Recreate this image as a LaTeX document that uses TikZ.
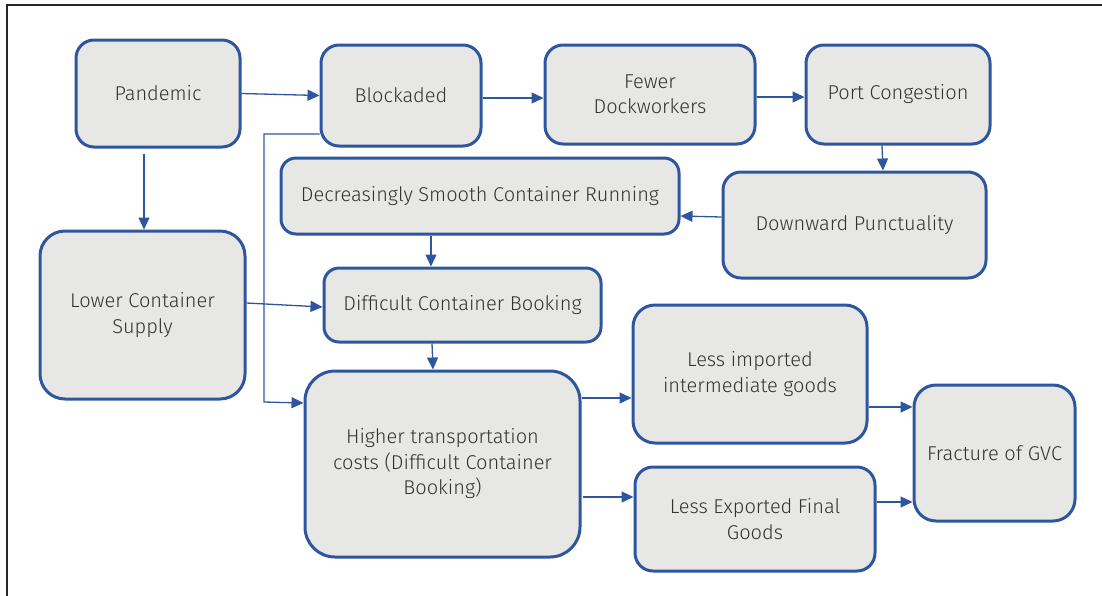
\documentclass[tikz,border=0pt]{standalone}
\usepackage{fontspec}
\setmainfont{Fira Sans}[UprightFont=* Light]
\usetikzlibrary{arrows.meta}
\definecolor{bord}{HTML}{2E569E}
\definecolor{boxfill}{HTML}{E7E7E6}
\definecolor{txt}{HTML}{333333}
\tikzset{
  box/.style={draw=bord, line width=3pt, fill=boxfill, rounded corners=18pt,
    align=center, text=txt, font=\fontsize{20}{25.5}\selectfont, inner sep=0pt},
  link/.style={draw=bord, line width=1.3pt, -{Triangle[length=12pt,width=11pt]}}
}
\begin{document}
\begin{tikzpicture}[x=1pt,y=-1pt]
\useasboundingbox (0,0) rectangle (1102,595);
\draw[line width=1.5pt, color=black!85] (7,600) -- (7,5) -- (1110,5);
\node[box, minimum width=164pt, minimum height=107pt] (pan) at (158,93.5) {Pandemic};
\node[box, minimum width=160pt, minimum height=101pt] (blk) at (401,95.5) {Blockaded};
\node[box, minimum width=210pt, minimum height=99pt] (few) at (650,94.5) {Fewer\\Dockworkers};
\node[box, minimum width=184pt, minimum height=99pt] (port) at (898,94.5) {Port Congestion};
\node[box, rounded corners=15pt, minimum width=398pt, minimum height=76pt] (dsc) at (480,196) {Decreasingly Smooth Container Running};
\node[box, minimum width=263pt, minimum height=106pt] (dp) at (854.5,225) {Downward Punctuality};
\node[box, rounded corners=25pt, minimum width=205pt, minimum height=168pt] (lcs) at (142.5,315) {Lower Container\\Supply};
\node[box, rounded corners=15pt, minimum width=277pt, minimum height=74pt] (dcb) at (462.5,305) {Difficult Container Booking};
\node[box, rounded corners=30pt, minimum width=275pt, minimum height=186pt] (htc) at (442.5,464) {Higher transportation\\costs (Difficult Container\\Booking)};
\node[box, rounded corners=22pt, minimum width=234pt, minimum height=138pt] (lii) at (750,374) {Less imported\\intermediate goods};
\node[box, minimum width=240pt, minimum height=104pt] (lef) at (755,519) {Less Exported Final\\Goods};
\node[box, rounded corners=22pt, minimum width=161pt, minimum height=136pt] (gvc) at (994.5,453) {Fracture of GVC};
% connectors
\draw[link] (pan.east) -- (blk.west);
\draw[link] (blk.east |- 0,98) -- (few.west |- 0,98);
\draw[link] (few.east |- 0,97) -- (port.west |- 0,97);
\draw[link] (port.south -| 882,0) -- (dp.north -| 883,0);
\draw[link] (dp.west |- 0,217) -- (dsc.east |- 0,216);
\draw[link] (dsc.south -| 431,0) -- (dcb.north -| 431,0);
\draw[link] (pan.south -| 144,0) ++(0,5) -- (lcs.north -| 144,0);
\draw[link] (lcs.east |- 0,303) -- (dcb.west |- 0,307);
\draw[link] (blk.west |- 0,134) -- (264,134) -- (264,402) -- (htc.west |- 0,403);
\draw[link] (dcb.south -| 432,0) -- (htc.north -| 433,0);
\draw[link] (htc.east |- 0,398) -- (lii.west |- 0,398);
\draw[link] (583,497) -- (lef.west |- 0,497);
\draw[link] (lii.east |- 0,407) -- (gvc.west |- 0,407);
\draw[link] (lef.east |- 0,502) -- (gvc.west |- 0,502);
\end{tikzpicture}
\end{document}
